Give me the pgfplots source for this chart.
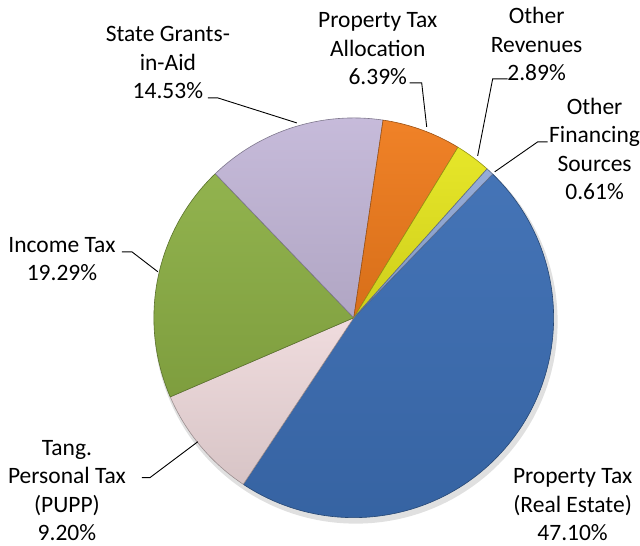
\documentclass[border=0pt]{standalone}
\usepackage{pgfplots}
\pgfplotsset{compat=1.18}
\usepackage{fontspec}
\setmainfont{Carlito}
\definecolor{cBlue}{HTML}{3B6DB3}
\definecolor{cPink}{HTML}{EFDADC}
\definecolor{cGreen}{HTML}{8CAF45}
\definecolor{cLav}{HTML}{C4B8D9}
\definecolor{cOrange}{HTML}{EF7B1C}
\definecolor{cYellow}{HTML}{E5E51E}
\definecolor{cGrey}{HTML}{90A8D6}
% slice(start cumulative %, value %, colour)
\newcommand{\slice}[3]{%
  \shade[top color=#3!95!white, bottom color=#3!90!black, draw=#3!65!black, line width=0.6pt, line join=round]
    (axis cs:354,228) -- ++({46-3.6*(#1)}:200pt)
    arc[start angle={46-3.6*(#1)}, delta angle={-3.6*(#2)}, radius=200pt] -- cycle;}
\begin{document}
\begin{tikzpicture}
\begin{axis}[x=1pt, y=1pt, xmin=0, xmax=640, ymin=0, ymax=546,
  hide axis, clip=false, scale only axis]
\path (axis cs:0,0) rectangle (axis cs:640,546);
% shadow
\fill[black, opacity=0.12] (axis cs:356,224) circle[radius=202pt];
% Values (%): 47.10, 9.20, 19.29, 14.53, 6.39, 2.89, 0.61
\slice{0}{47.10}{cBlue}
\slice{47.10}{9.20}{cPink}
\slice{47.10+9.20}{19.29}{cGreen}
\slice{47.10+9.20+19.29}{14.53}{cLav}
\slice{47.10+9.20+19.29+14.53}{6.39}{cOrange}
\slice{47.10+9.20+19.29+14.53+6.39}{2.89}{cYellow}
\slice{47.10+9.20+19.29+14.53+6.39+2.89}{0.61}{cGrey}
% leader lines
\draw[black, line width=0.9pt] (axis cs:208,448) -- (axis cs:218,448) -- (axis cs:297,423);
\draw[black, line width=0.9pt] (axis cs:410,463) -- (axis cs:422,463) -- (axis cs:427,419);
\draw[black, line width=0.9pt] (axis cs:508,467) -- (axis cs:493,467) -- (axis cs:478,390);
\draw[black, line width=0.9pt] (axis cs:548,404) -- (axis cs:538,404) -- (axis cs:495,374);
\draw[black, line width=0.9pt] (axis cs:122,294) -- (axis cs:132,294) -- (axis cs:158,274);
\draw[black, line width=0.9pt] (axis cs:142,68) -- (axis cs:150,68) -- (axis cs:198,104);
% labels
\tikzset{lbl/.style={align=center, inner sep=0pt, font=\fontsize{23.5}{28.5}\selectfont, text=black}}
\node[lbl] at (axis cs:168,483) {State Grants-\\in-Aid\\14.53\%};
\node[lbl] at (axis cs:378,497) {Property Tax\\Allocation\\6.39\%};
\node[lbl] at (axis cs:537,502) {Other\\Revenues\\2.89\%};
\node[lbl] at (axis cs:595,397) {Other\\Financing\\Sources\\0.61\%};
\node[lbl] at (axis cs:62,287) {Income Tax\\19.29\%};
\node[lbl] at (axis cs:67,55) {Tang.\\Personal Tax\\(PUPP)\\9.20\%};
\node[lbl] at (axis cs:573,41) {Property Tax\\(Real Estate)\\47.10\%};
\end{axis}
\end{tikzpicture}
\end{document}
